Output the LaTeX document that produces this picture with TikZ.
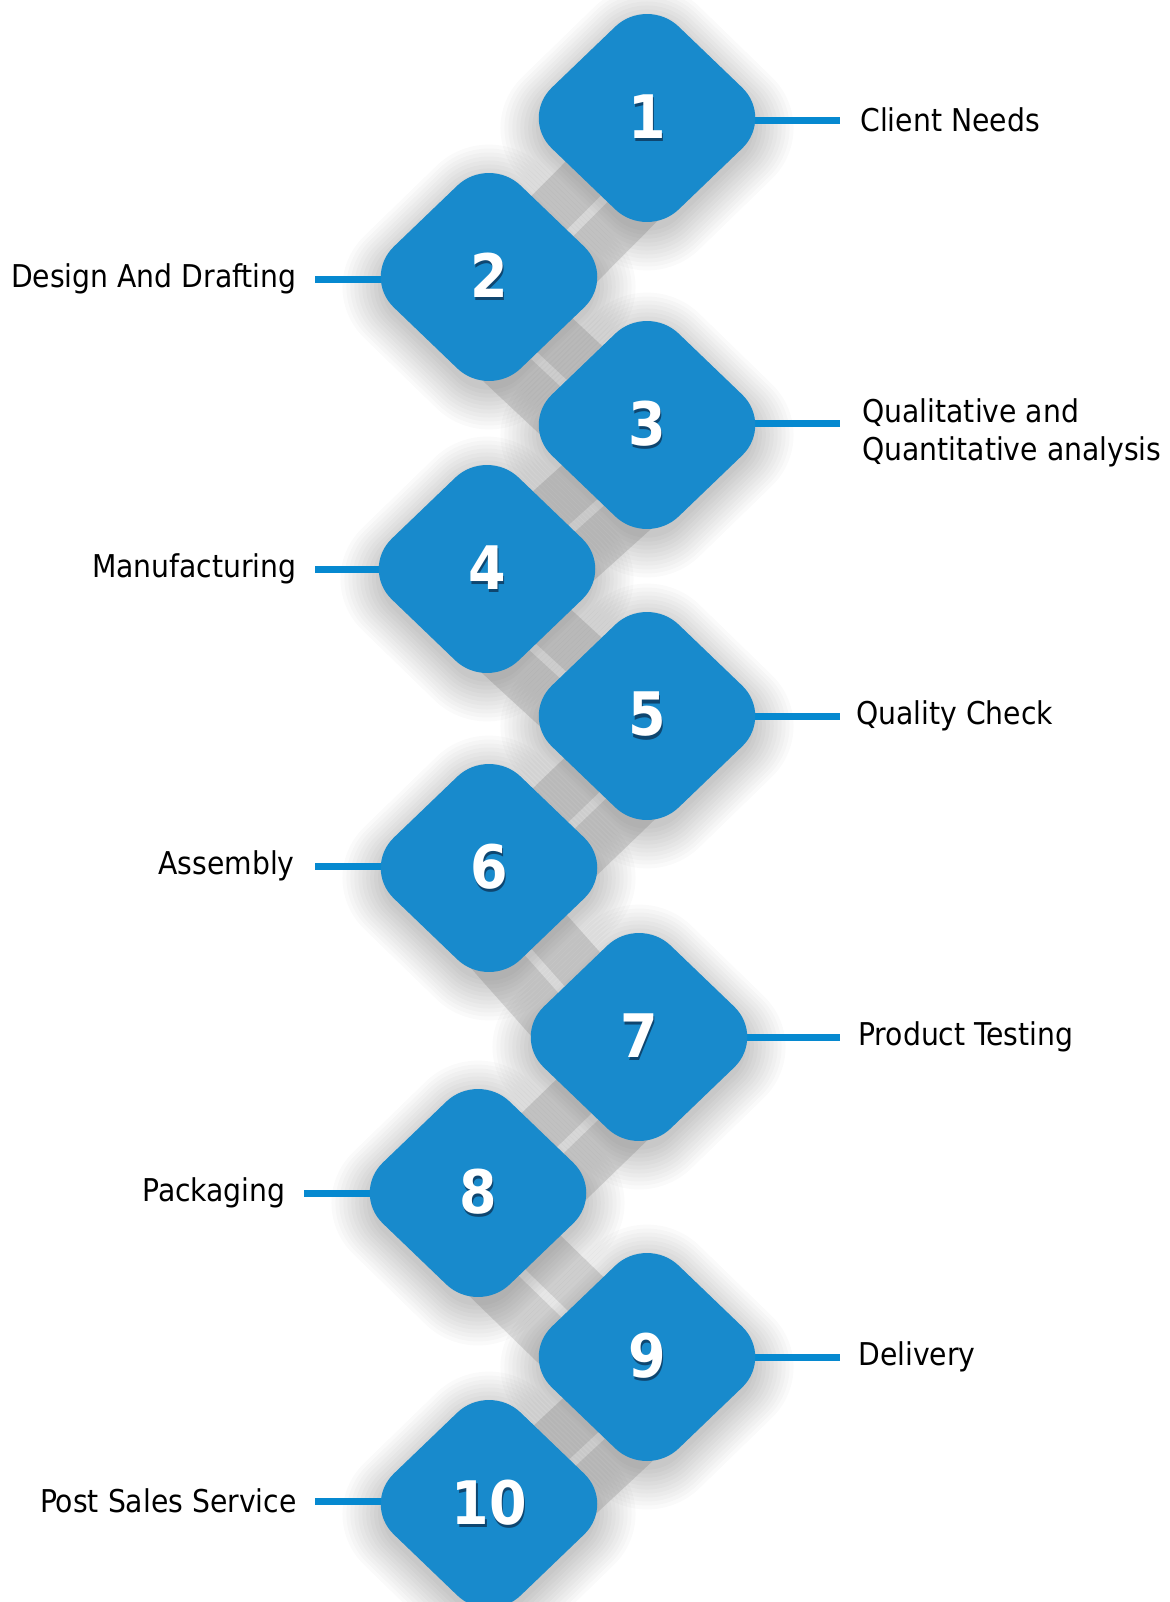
\documentclass[tikz,border=0pt]{standalone}
\usepackage{fontspec}
\setmainfont{DejaVu Sans Condensed}
\usetikzlibrary{shapes.geometric,positioning,calc,backgrounds}

\definecolor{stepblue}{RGB}{24,138,204}
\definecolor{lineblue}{RGB}{6,137,208}
\definecolor{barfill}{RGB}{226,226,226}
\definecolor{barstripe}{RGB}{250,250,250}
\definecolor{numshade}{RGB}{14,70,112}

\newcommand\stepnum[1]{\rlap{\kern0.8pt\raisebox{-1.6pt}{\textcolor{numshade}{#1}}}#1}

\tikzset{
  stepbox/.style={diamond, aspect=1, inner sep=0pt, minimum width=127pt, minimum height=122pt,
    rounded corners=22pt, fill=stepblue, text=white, font=\fontsize{30}{30}\selectfont\bfseries},
  glow/.style={fill=black, fill opacity=0.018},
  conn/.style={draw=lineblue, line width=3.5pt},
  lbl/.style={inner sep=0pt, font=\fontsize{15.7}{19}\selectfont, text=black},
}

\begin{document}
\begin{tikzpicture}[x=0.5pt,y=-0.5pt]
	\useasboundingbox (0,0) rectangle (1170,1602);

	% the ten steps
	\node[stepbox] (d1) at (647,118) {\stepnum{1}};
	\node[stepbox] (d2) at (489,277) {\stepnum{2}};
	\node[stepbox] (d3) at (647,425) {\stepnum{3}};
	\node[stepbox] (d4) at (487,569) {\stepnum{4}};
	\node[stepbox] (d5) at (647,716) {\stepnum{5}};
	\node[stepbox] (d6) at (489,868) {\stepnum{6}};
	\node[stepbox] (d7) at (639,1037) {\stepnum{7}};
	\node[stepbox] (d8) at (478,1193) {\stepnum{8}};
	\node[stepbox] (d9) at (647,1357) {\stepnum{9}};
	\node[stepbox] (d10) at (489,1504) {\stepnum{10}};

	% ends of the blue lines
	\coordinate (e1) at (840,120);
	\coordinate (e2) at (315,279);
	\coordinate (e3) at (840,423);
	\coordinate (e4) at (315,569);
	\coordinate (e5) at (840,716);
	\coordinate (e6) at (315,866);
	\coordinate (e7) at (840,1037);
	\coordinate (e8) at (304,1193);
	\coordinate (e9) at (840,1357);
	\coordinate (e10) at (315,1501);

	\node[lbl, right=10pt of e1] (t1) {Client Needs};
	\node[lbl, left=9pt of e2] (t2) {Design And Drafting};
	\node[lbl, align=left, right=11pt of e3, yshift=-5pt] (t3) {Qualitative and\\Quantitative analysis};
	\node[lbl, left=9pt of e4] (t4) {Manufacturing};
	\node[lbl, right=8pt of e5] (t5) {Quality Check};
	\node[lbl, left=10pt of e6] (t6) {Assembly};
	\node[lbl, right=9pt of e7] (t7) {Product Testing};
	\node[lbl, left=9pt of e8] (t8) {Packaging};
	\node[lbl, right=9pt of e9] (t9) {Delivery};
	\node[lbl, left=9pt of e10] (t10) {Post Sales Service};

	\begin{scope}[on background layer]
		\fill[white] (0,0) rectangle (1170,1602);
		% grey bars between the steps
		\foreach \a/\b in {2/1,2/3,4/3,4/5,6/5,6/7,8/7,8/9,10/9}{
			\fill[barfill] ($(d\a.center)!13.5pt!90:(d\b.center)$) -- ($(d\b.center)!13.5pt!-90:(d\a.center)$)
				-- ($(d\b.center)!40pt!90:(d\a.center)$) -- ($(d\a.center)!40pt!-90:(d\b.center)$) -- cycle;
			\draw[barstripe, line width=4.5pt] ($(d\a.center)!13.25pt!-90:(d\b.center)$) -- ($(d\b.center)!13.25pt!90:(d\a.center)$);
		}
		% soft shadows under the steps
		\foreach \i in {1,...,10}{
			\foreach \k in {1,...,11}{
				\pgfmathsetmacro\W{60+2.6*\k}
				\pgfmathsetmacro\H{57.5+2.6*\k}
				\pgfmathsetmacro\R{20+1.5*\k}
				\fill[glow, rounded corners=\R pt] ([yshift=-5pt]d\i.center) ++(0pt,\H pt) -- ++(\W pt,-\H pt)
					-- ++(-\W pt,-\H pt) -- ++(-\W pt,\H pt) -- cycle;
			}
		}
		\foreach \i in {1,...,10}
			\draw[conn] (d\i.center |- e\i) -- (e\i);
	\end{scope}

\end{tikzpicture}
\end{document}
